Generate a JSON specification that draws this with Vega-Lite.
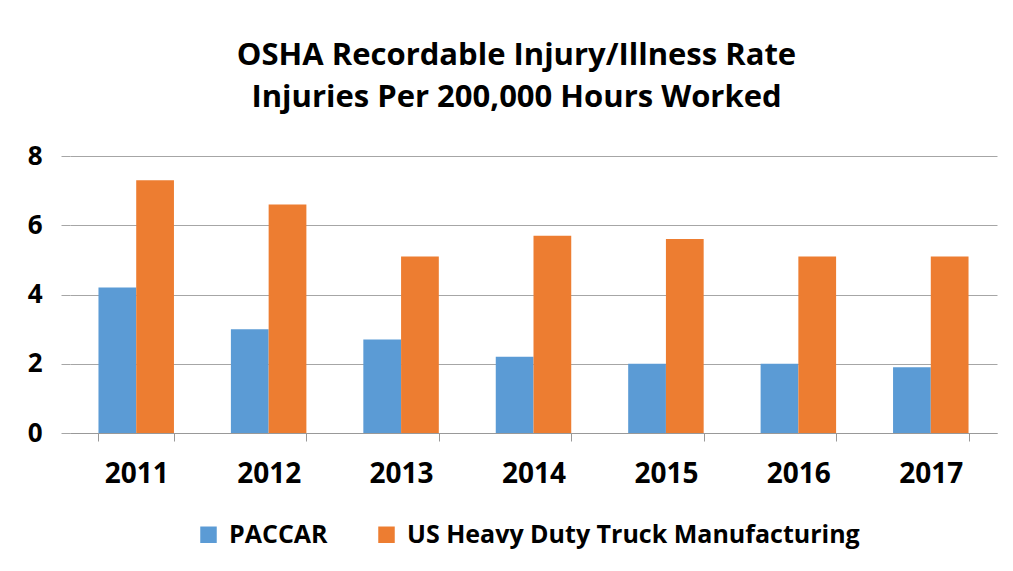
{
  "$schema": "https://vega.github.io/schema/vega-lite/v6.json",
  "autosize": "none",
  "width": 927,
  "height": 277,
  "padding": {"left": 70, "top": 156, "right": 16, "bottom": 138},
  "background": "white",
  "config": {"view": {"stroke": null}, "font": "Open Sans"},
  "title": {
    "text": ["OSHA Recordable Injury/Illness Rate", "Injuries Per 200,000 Hours Worked"],
    "anchor": "middle",
    "frame": "group",
    "fontSize": 31,
    "fontWeight": "bold",
    "font": "Open Sans",
    "lineHeight": 42,
    "offset": 29,
    "dx": -17,
    "color": "black"
  },
  "data": {
    "values": [
      {"year": "2011", "series": "PACCAR", "rate": 4.2},
      {"year": "2011", "series": "US Heavy Duty Truck Manufacturing", "rate": 7.3},
      {"year": "2012", "series": "PACCAR", "rate": 3.0},
      {"year": "2012", "series": "US Heavy Duty Truck Manufacturing", "rate": 6.6},
      {"year": "2013", "series": "PACCAR", "rate": 2.7},
      {"year": "2013", "series": "US Heavy Duty Truck Manufacturing", "rate": 5.1},
      {"year": "2014", "series": "PACCAR", "rate": 2.2},
      {"year": "2014", "series": "US Heavy Duty Truck Manufacturing", "rate": 5.7},
      {"year": "2015", "series": "PACCAR", "rate": 2.0},
      {"year": "2015", "series": "US Heavy Duty Truck Manufacturing", "rate": 5.6},
      {"year": "2016", "series": "PACCAR", "rate": 2.0},
      {"year": "2016", "series": "US Heavy Duty Truck Manufacturing", "rate": 5.1},
      {"year": "2017", "series": "PACCAR", "rate": 1.9},
      {"year": "2017", "series": "US Heavy Duty Truck Manufacturing", "rate": 5.1}
    ]
  },
  "mark": {"type": "bar"},
  "encoding": {
    "x": {
      "field": "year", "type": "nominal", "title": null,
      "scale": {"paddingInner": 0.43, "paddingOuter": 0.215},
      "axis": {
        "labelAngle": 0, "labelFontSize": 28, "labelFontWeight": "bold", "labelColor": "black",
        "labelFont": "Open Sans",
        "tickBand": "extent", "tickSize": 8, "tickColor": "#999999", "domainColor": "#999999",
        "labelPadding": 19
      }
    },
    "xOffset": {"field": "series", "type": "nominal", "sort": ["PACCAR", "US Heavy Duty Truck Manufacturing"]},
    "y": {
      "field": "rate", "type": "quantitative", "title": null,
      "scale": {"domain": [0, 8]},
      "axis": {
        "values": [0, 2, 4, 6, 8], "domain": false,
        "labelFontSize": 26, "labelFontWeight": "bold", "labelColor": "black", "labelFont": "Open Sans",
        "tickSize": 9, "tickColor": "#a6a6a6", "gridColor": "#a6a6a6", "labelPadding": 19
      }
    },
    "color": {
      "field": "series", "type": "nominal", "title": null,
      "sort": ["PACCAR", "US Heavy Duty Truck Manufacturing"],
      "scale": {"domain": ["PACCAR", "US Heavy Duty Truck Manufacturing"], "range": ["#5B9BD5", "#ED7D31"]},
      "legend": {
        "orient": "none", "direction": "horizontal", "legendX": 126, "legendY": 366,
        "symbolType": "square", "symbolSize": 272, "symbolStrokeWidth": 0,
        "labelFontSize": 25, "labelFontWeight": "bold", "labelColor": "black", "labelFont": "Open Sans",
        "columnPadding": 46, "labelOffset": 8, "labelLimit": 700
      }
    }
  }
}
